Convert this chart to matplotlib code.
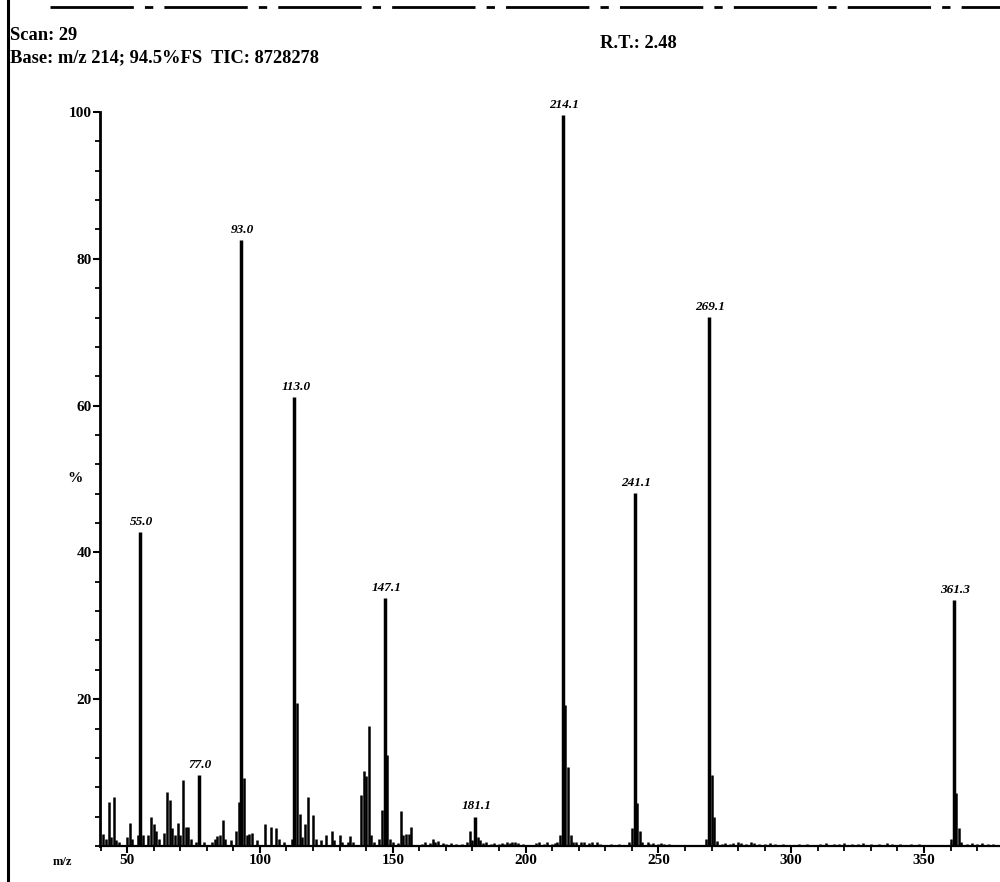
import matplotlib
matplotlib.use('Agg')
import matplotlib.pyplot as plt
from matplotlib.ticker import MultipleLocator
from matplotlib.lines import Line2D

plt.rcParams['font.family'] = ['Liberation Serif', 'DejaVu Serif']

# minor peaks (m/z, relative intensity %)
mz = [41, 42, 43, 44, 45, 46, 47, 50, 51, 52, 54, 56, 58, 59, 60, 61, 62, 64,
      65, 66, 67, 68, 69, 70, 71, 72, 73, 74, 76, 79, 82, 83, 84, 85, 86, 87,
      89, 91, 92, 94, 95, 96, 97, 99, 102, 104, 106, 107, 109, 112, 114, 115,
      116, 117, 118, 120, 121, 123, 125, 127, 128, 130, 131, 133, 134, 135,
      138, 139, 140, 141, 142, 143, 145, 146, 148, 149, 150, 152, 153, 154,
      155, 156, 157, 161, 162, 164, 165, 166, 167, 169, 170, 172, 174, 176,
      178, 179, 180, 182, 183, 184, 185, 187, 188, 190, 191, 192, 193, 194,
      195, 196, 197, 199, 204, 205, 207, 208, 210, 211, 212, 213, 215, 216,
      217, 218, 219, 221, 222, 224, 225, 227, 228, 232, 235, 239, 240, 242,
      243, 244, 246, 247, 248, 250, 251, 252, 254, 268, 270, 271, 272, 274,
      275, 277, 278, 280, 281, 283, 285, 286, 288, 290, 292, 294, 297, 303,
      306, 311, 313, 316, 318, 320, 323, 325, 327, 330, 333, 336, 338, 341,
      345, 348, 360, 362, 363, 364, 366, 368, 370, 372, 374, 376]
intensity = [1.7, 1.0, 6.0, 1.2, 6.7, 0.8, 0.5, 1.2, 3.2, 1.0, 1.5, 1.5, 1.5,
             4.0, 3.0, 2.0, 1.0, 1.8, 7.3, 6.2, 2.5, 1.5, 3.2, 1.5, 9.0, 2.6,
             2.6, 1.0, 0.5, 0.5, 0.5, 1.0, 1.3, 1.5, 3.6, 1.0, 0.8, 2.0, 6.0,
             9.2, 1.5, 1.7, 1.8, 0.8, 3.0, 2.6, 2.4, 1.0, 0.6, 1.0, 19.5, 4.4,
             1.2, 3.0, 6.7, 4.2, 1.0, 0.8, 1.5, 2.1, 0.8, 1.5, 0.5, 0.6, 1.3,
             0.5, 7.0, 10.2, 9.6, 16.4, 1.5, 0.5, 1.0, 4.9, 12.4, 1.0, 0.5,
             0.4, 4.8, 1.5, 1.7, 1.7, 2.6, 0.3, 0.6, 0.4, 0.9, 0.5, 0.7, 0.4,
             0.3, 0.4, 0.3, 0.3, 0.6, 2.0, 0.8, 1.2, 0.8, 0.4, 0.5, 0.3, 0.4,
             0.3, 0.4, 0.3, 0.5, 0.4, 0.5, 0.6, 0.4, 0.3, 0.4, 0.5, 0.3, 0.5,
             0.3, 0.4, 0.5, 1.5, 19.2, 10.7, 1.5, 0.5, 0.5, 0.6, 0.5, 0.4, 0.6,
             0.5, 0.3, 0.3, 0.3, 0.5, 2.5, 5.9, 2.0, 0.5, 0.5, 0.3, 0.4, 0.3,
             0.4, 0.3, 0.3, 1.0, 9.7, 4.0, 0.7, 0.3, 0.4, 0.3, 0.4, 0.5, 0.4,
             0.3, 0.6, 0.4, 0.3, 0.3, 0.4, 0.3, 0.3, 0.3, 0.3, 0.3, 0.4, 0.3,
             0.3, 0.4, 0.3, 0.3, 0.4, 0.3, 0.3, 0.4, 0.3, 0.3, 0.3, 0.3, 1.0,
             7.2, 2.4, 0.5, 0.3, 0.4, 0.3, 0.4, 0.3, 0.3]

# labelled peaks
label_mz = [55.0, 77.0, 93.0, 113.0, 147.1, 181.1, 214.1, 241.1, 269.1, 361.3]
label_int = [42.8, 9.7, 82.6, 61.2, 33.8, 4.0, 99.6, 48.1, 72.1, 33.5]

x_ticks = [50, 100, 150, 200, 250, 300, 350]
y_ticks = [20, 40, 60, 80, 100]

fig = plt.figure(figsize=(10, 8.82), dpi=100)
ax = fig.add_axes([0.100, 36 / 882, 0.900, 734 / 882])

ax.vlines(mz, 0, intensity, color='black', lw=1.8)
ax.vlines(label_mz, 0, label_int, color='black', lw=2.5)
for m, h in zip(label_mz, label_int):
    ax.annotate(f'{m:.1f}', (m, h), xytext=(1, 3), textcoords='offset points',
                ha='center', va='bottom', fontsize=9.5, fontstyle='italic',
                fontweight='bold')

ax.set_xlim(39.8, 378.6)
ax.set_ylim(0, 100)
for s in ['top', 'right']:
    ax.spines[s].set_visible(False)
ax.spines['left'].set_linewidth(2.0)
ax.spines['bottom'].set_linewidth(1.6)

ax.set_xticks(x_ticks)
ax.set_yticks(y_ticks)
ax.xaxis.set_minor_locator(MultipleLocator(10))
ax.yaxis.set_minor_locator(MultipleLocator(4))
ax.tick_params(axis='both', which='major', direction='out', length=5, width=1.5,
               labelsize=11, pad=1)
ax.tick_params(axis='both', which='minor', direction='out', length=3.5, width=1.3)
for lab in ax.get_xticklabels() + ax.get_yticklabels():
    lab.set_fontweight('bold')

fig.text(0.075, 1 - 478 / 882, '%', fontsize=11, fontweight='bold',
         ha='center', va='center')
fig.text(0.062, 1 - 862 / 882, 'm/z', fontsize=9, fontweight='bold',
         ha='center', va='center')

fig.text(0.010, 1 - 35 / 882, 'Scan: 29', fontsize=13.3, fontweight='bold',
         ha='left', va='center')
fig.text(0.010, 1 - 58 / 882, 'Base: m/z 214; 94.5%FS  TIC: 8728278',
         fontsize=13.3, fontweight='bold', ha='left', va='center')
fig.text(0.600, 1 - 43 / 882, 'R.T.: 2.48', fontsize=13.3, fontweight='bold',
         ha='left', va='center')

# scanned frame lines
fig.add_artist(Line2D([0.008, 0.008], [0.0, 1.0], transform=fig.transFigure,
                      color='black', lw=2.2))
fig.add_artist(Line2D([0.05, 1.0], [1 - 7 / 882, 1 - 7 / 882],
                      transform=fig.transFigure, color='black', lw=2,
                      dashes=(30, 4, 3, 4)))

fig.savefig('out.png', dpi=100, facecolor='white')
